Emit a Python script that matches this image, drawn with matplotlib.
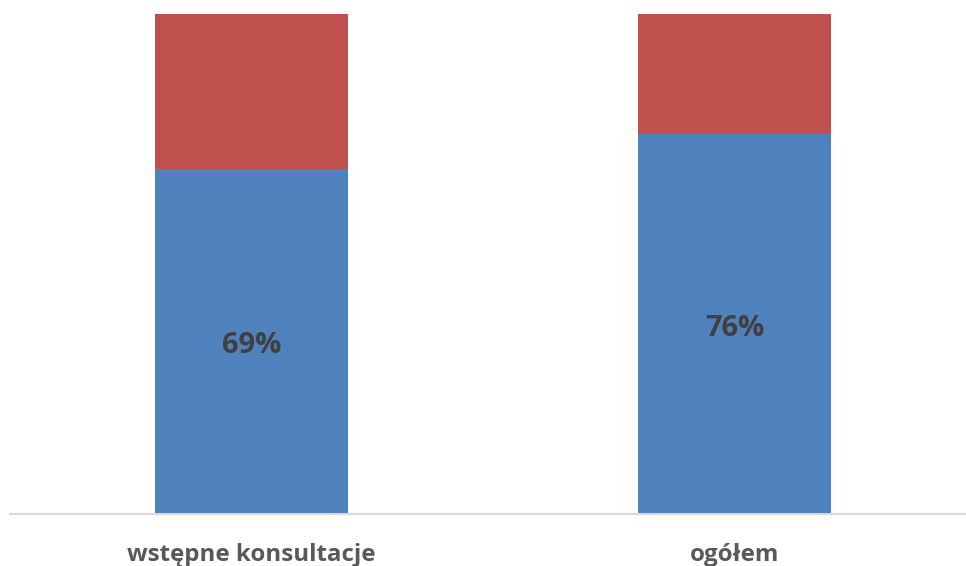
import matplotlib
matplotlib.use("Agg")
import matplotlib.pyplot as plt
from matplotlib.transforms import offset_copy

categories = ["wstępne konsultacje", "ogółem"]
share_yes = [0.69, 0.76]
share_no = [0.31, 0.24]

blue = "#4f81bd"
red = "#c0504d"

plt.rcParams["font.family"] = ["Open Sans", "DejaVu Sans"]

fig = plt.figure(figsize=(9.66, 5.66), dpi=100)
ax = fig.add_axes([10 / 966, 52 / 566, 956 / 966, 500 / 566])

x = list(range(len(categories)))
ax.bar(x, share_yes, width=0.4, color=blue, edgecolor="none")
ax.bar(x, share_no, width=0.4, bottom=share_yes, color=red, edgecolor="none")

label_tf = offset_copy(ax.transData, fig=fig, x=0, y=-4, units="dots")
for xi, v in zip(x, share_yes):
    ax.text(xi, v / 2, f"{round(v * 100)}%", ha="center", va="center",
            fontsize=21, fontweight="bold", color="#404040", transform=label_tf)

ax.set_xlim(-0.5, 1.479)
ax.set_ylim(0, 1)
ax.set_yticks([])
ax.set_xticks(x)
ax.set_xticklabels(categories, fontsize=17.4, fontweight="bold", color="#595959")
ax.tick_params(axis="x", length=0, pad=21)
for side in ["top", "right", "left"]:
    ax.spines[side].set_visible(False)
ax.spines["bottom"].set_color("#d9d9d9")
ax.spines["bottom"].set_linewidth(1.5)

fig.savefig("out.png", dpi=100)
